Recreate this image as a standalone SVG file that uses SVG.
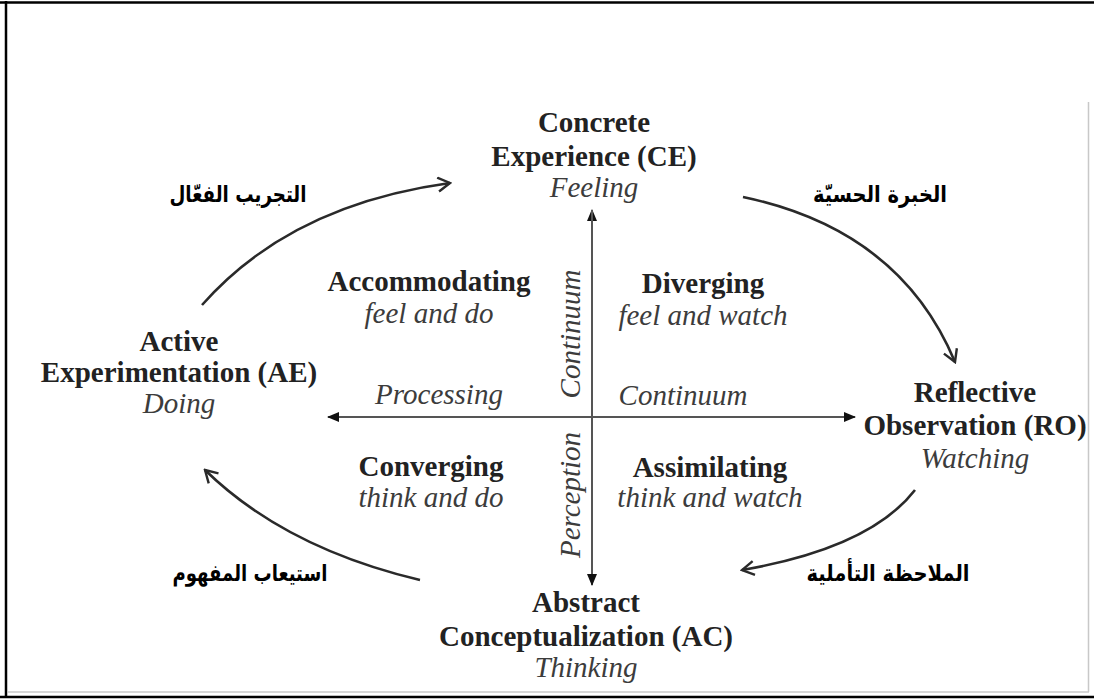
<svg xmlns="http://www.w3.org/2000/svg" width="1094" height="699" viewBox="0 0 1094 699">
<style>
.b{font-family:"Liberation Serif","Times New Roman",serif;font-weight:bold;font-size:29px;fill:#222;text-anchor:middle}
.i{font-family:"Liberation Serif","Times New Roman",serif;font-style:italic;font-size:29px;fill:#3c3c3c;text-anchor:middle}
.ar{font-family:"DejaVu Sans",sans-serif;font-weight:bold;font-size:23px;fill:#000;text-anchor:middle;direction:rtl}
.axis{stroke:#555;stroke-width:2;fill:none}
.cyc{stroke:#2a2a2a;stroke-width:2.6;fill:none;marker-end:url(#open)}
</style>
<defs>
<marker id="open" viewBox="0 0 16 16" refX="14" refY="8" markerWidth="16" markerHeight="16" markerUnits="userSpaceOnUse" orient="auto">
<path d="M2,1 L14,8 L2,15" fill="none" stroke="#2a2a2a" stroke-width="2.4"/>
</marker>
<marker id="tri" viewBox="0 0 12 12" refX="11" refY="6" markerWidth="12" markerHeight="12" markerUnits="userSpaceOnUse" orient="auto">
<path d="M0,1 L12,6 L0,11 Z" fill="#111"/>
</marker>
</defs>
<rect width="1094" height="699" fill="#fff"/>
<g id="frame">
<line x1="6" y1="1" x2="6" y2="698" stroke="#000" stroke-width="2.5"/>
<line x1="0" y1="2.5" x2="1094" y2="2.5" stroke="#000" stroke-width="2.5"/>
<line x1="0" y1="697" x2="1094" y2="697" stroke="#000" stroke-width="2.5"/>
<line x1="1088.5" y1="102" x2="1088.5" y2="692" stroke="#c8c8c8" stroke-width="1.5"/>
<line x1="8" y1="692" x2="1089" y2="692" stroke="#c8c8c8" stroke-width="1.5"/>
</g>
<g id="connectors">
<line class="axis" x1="592" y1="585" x2="592" y2="210" marker-end="url(#tri)"/>
<line class="axis" x1="592" y1="210" x2="592" y2="585" marker-end="url(#tri)"/>
<line class="axis" x1="592" y1="417" x2="328" y2="417" marker-end="url(#tri)"/>
<line class="axis" x1="592" y1="417" x2="855" y2="417" marker-end="url(#tri)"/>
<path class="cyc" d="M202,305 Q290,205 450,183"/>
<path class="cyc" d="M743,197 Q900,230 955,362"/>
<path class="cyc" d="M915,490 Q870,548 742,570"/>
<path class="cyc" d="M420,580 Q285,548 205,470"/>
</g>
<g id="CE">
<text class="b" x="594" y="132">Concrete</text>
<text class="b" x="594" y="166">Experience (CE)</text>
<text class="i" x="594" y="197">Feeling</text>
</g>
<g id="RO">
<text class="b" x="975" y="402">Reflective</text>
<text class="b" x="975" y="435">Observation (RO)</text>
<text class="i" x="975" y="468">Watching</text>
</g>
<g id="AC">
<text class="b" x="586" y="612">Abstract</text>
<text class="b" x="586" y="646">Conceptualization (AC)</text>
<text class="i" x="586" y="677">Thinking</text>
</g>
<g id="AE">
<text class="b" x="179" y="351">Active</text>
<text class="b" x="179" y="382">Experimentation (AE)</text>
<text class="i" x="179" y="413">Doing</text>
</g>
<g id="accommodating">
<text class="b" x="429" y="291">Accommodating</text>
<text class="i" x="429" y="323">feel and do</text>
</g>
<g id="diverging">
<text class="b" x="703" y="293">Diverging</text>
<text class="i" x="703" y="325">feel and watch</text>
</g>
<g id="converging">
<text class="b" x="431" y="476">Converging</text>
<text class="i" x="431" y="507">think and do</text>
</g>
<g id="assimilating">
<text class="b" x="710" y="477">Assimilating</text>
<text class="i" x="710" y="507">think and watch</text>
</g>
<g id="axis-labels">
<text class="i" x="439" y="404">Processing</text>
<text class="i" x="683" y="405">Continuum</text>
<text class="i" transform="translate(580,334) rotate(-90)">Continuum</text>
<text class="i" transform="translate(580,495) rotate(-90)">Perception</text>
</g>
<g id="arabic">
<text class="ar" x="238" y="202" textLength="137" lengthAdjust="spacingAndGlyphs">التجريب الفعّال</text>
<text class="ar" x="880" y="202" textLength="134" lengthAdjust="spacingAndGlyphs">الخبرة الحسيّة</text>
<text class="ar" x="250" y="581" textLength="155" lengthAdjust="spacingAndGlyphs">استيعاب المفهوم</text>
<text class="ar" x="888" y="581" textLength="163" lengthAdjust="spacingAndGlyphs">الملاحظة التأملية</text>
</g>
</svg>
